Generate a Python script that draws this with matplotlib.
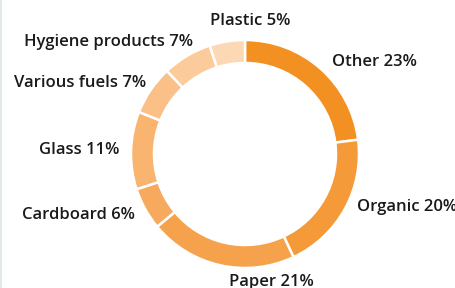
import numpy as np
import matplotlib.pyplot as plt

labels = ["Other", "Organic", "Paper", "Cardboard", "Glass",
          "Various fuels", "Hygiene products", "Plastic"]
shares = [23, 20, 21, 6, 11, 7, 7, 5]
colors = ["#F39022", "#F59A38", "#F6A24C", "#F7AA5D", "#F9B470",
          "#FAC087", "#FBCB9C", "#FDD8B5"]

W, H = 456, 288
cx, cy, R = 245, 288 - 154, 114

fig = plt.figure(figsize=(W / 100, H / 100), dpi=100)
ax = fig.add_axes([0, 0, 1, 1])

ax.pie(shares, colors=colors, startangle=90, counterclock=False,
       center=(cx, cy), radius=R, frame=True,
       wedgeprops=dict(width=23, edgecolor="white", linewidth=1.8))
ax.set_xlim(0, W)
ax.set_ylim(0, H)
ax.set_aspect("equal")
ax.axis("off")

# nudges for labels (dx, dy in px) near top/bottom
nudge = {"Paper": (54, -5), "Plastic": (25, 9), "Hygiene products": (12, 4),
         "Other": (4, -3), "Various fuels": (5, 0), "Organic": (2, 8)}

cum = np.cumsum([0] + shares)
for i, name in enumerate(labels):
    mid = (cum[i] + cum[i + 1]) / 2 / 100 * 2 * np.pi
    s, c = np.sin(mid), np.cos(mid)
    x = cx + (R + 12) * s
    y = cy + (R + 12) * c
    dx, dy = nudge.get(name, (0, 0))
    x += dx
    y += dy
    if name in ("Paper", "Plastic"):
        ha = "center"
    else:
        ha = "left" if s > 0 else "right"
    ax.text(x, y, f"{name} {shares[i]}%", ha=ha, va="center",
            fontsize=12, fontweight="semibold", family="Open Sans",
            color="#1a1a1a")

# thin border line at the left edge
ax.plot([0.8, 0.8], [0, H], color="#E3E8E8", lw=1.5)

fig.savefig("out.png", dpi=100)
